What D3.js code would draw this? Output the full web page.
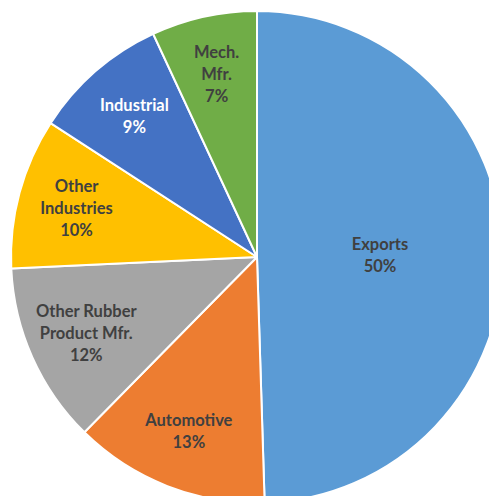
<!DOCTYPE html>
<html>
<head>
<meta charset="utf-8">
<script src="https://cdn.jsdelivr.net/npm/d3@7/dist/d3.min.js"></script>
<style>
  html, body { margin: 0; padding: 0; background: #fff; overflow: hidden; }
  svg { display: block; }
</style>
</head>
<body>
<svg id="chart" width="489" height="496"></svg>
<script>
// Rubber consumption by end use (%)
const categories = ["Exports", "Automotive", "Other Rubber\nProduct Mfr.", "Other\nIndustries", "Industrial", "Mech.\nMfr."];
const values = [50, 13, 12, 10, 9, 7];
const colors = ["#5B9BD5", "#ED7D31", "#A5A5A5", "#FFC000", "#4472C4", "#70AD47"];
const labelColors = ["#404040", "#404040", "#404040", "#404040", "#ffffff", "#404040"];

const data = categories.map((c, i) => ({ name: c, value: values[i], color: colors[i], labelColor: labelColors[i] }));

const svg = d3.select("#chart");
const cx = 257, cy = 257, r = 246;

const g = svg.append("g").attr("transform", `translate(${cx},${cy})`);

const pie = d3.pie().value(d => d.value).sort(null);
const arcs = pie(data);

const arc = d3.arc().innerRadius(0).outerRadius(r);

g.selectAll("path.slice")
  .data(arcs)
  .join("path")
  .attr("class", "slice")
  .attr("d", arc)
  .attr("fill", d => d.data.color)
  .attr("stroke", "#fff")
  .attr("stroke-width", 2)
  .attr("stroke-linejoin", "round");

// Large slice label sits half-way out, small slices further toward the rim
const labelArcInner = d3.arc().innerRadius(r * 0.5).outerRadius(r * 0.5);
const labelArcOuter = d3.arc().innerRadius(r * 0.76).outerRadius(r * 0.76);

const lineH = 22;
const labels = g.selectAll("text.lbl")
  .data(arcs)
  .join("text")
  .attr("class", "lbl")
  .attr("text-anchor", "middle")
  .attr("font-family", "Lato, 'Open Sans', sans-serif")
  .attr("font-weight", "bold")
  .attr("font-size", 16.5)
  .attr("fill", d => d.data.labelColor)
  .attr("transform", d => {
    const p = (d.data.value >= 25 ? labelArcInner : labelArcOuter).centroid(d);
    return `translate(${p[0]},${p[1]})`;
  });

labels.each(function(d) {
  const lines = d.data.name.split("\n").concat([d.data.value + "%"]);
  const t = d3.select(this);
  const offset = -(lines.length - 1) * lineH / 2;
  lines.forEach((ln, i) => {
    t.append("tspan")
      .attr("x", 0)
      .attr("y", offset + i * lineH)
      .attr("dy", "0.35em")
      .text(ln);
  });
});
</script>
</body>
</html>
